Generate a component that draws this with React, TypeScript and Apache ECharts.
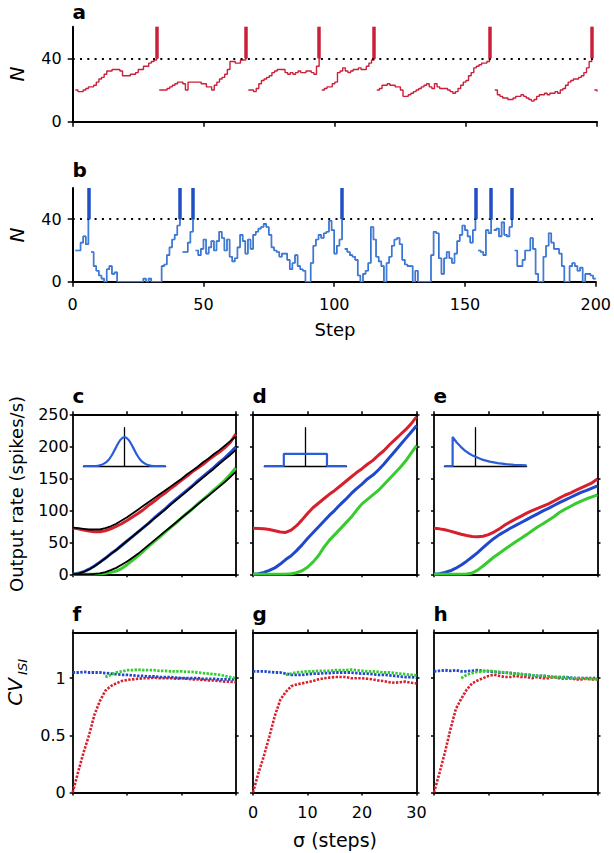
import React, { useEffect, useRef } from 'react';
import * as echarts from 'echarts';

// ---------------- data ----------------
const stepTicks = [0, 50, 100, 150, 200];
const nTicks = [0, 40];
const threshold = 40;
const spikeTop = 60;

// panel a: N per step (index = step), null = no trace
const traceA = [null,
  20, 19, 19, 20, 21, 22, 22, 23, 25, 27, 28, 30, 32, 32, 33, 33, 33, 32, 29, 29,
  29, 30, 30, 31, 33, 33, 35, 35, 37, 38, 39, 40,
  20, 20, 20, 21, 22, 23, 24, 25, 25, 24, 20, 25, 25, 25, 25, 25, 24, 24, 22, 22,
  20, 23, 25, 27, 28, 30, 33, 38, 38, 37, 37, 39, 39, 40,
  20, 20, 19, 21, 24, 26, 27, 28, 29, 31, 32, 33, 33, 33, 31, 30, 31, 30, 31, 32,
  31, 31, 32, 32, 31, 30, 35, 40,
  20, 21, 22, 22, 24, 25, 31, 32, 34, 32, 31, 32, 33, 33, 34, 33, 33, 35, 37, 39, 40,
  20, 21, 23, 23, 24, 23, 23, 22, 22, 20, 16, 16, 17, 18, 19, 20, 21, 22, 23, 24,
  22, 21, 24, 22, 21, 21, 21, 20, 19, 18, 19, 21, 23, 25, 26, 29, 31, 34, 35, 36,
  37, 37, 38, 40,
  null,
  20, 17, 16, 15, 15, 14, 14, 15, 16, 16, 17, 16, 15, 14, 13, 14, 16, 17, 17, 18,
  17, 18, 18, 19, 18, 20, 21, 23, 25, 26, 27, 27, 28, 29, 31, 34, 38, 40,
  20, 19];
const spikesA = [32, 66, 94, 115, 159, 198];

// panel b
const traceB = [null,
  20, 20, 25, 29, 24, 40,
  19, 10, 7, 4, 2, 0, 8, 10, 5, 6, 0, 0, 0, 0, 0, 0, 0, 0, 0, 0,
  2, 0, 2, 0, 0, 0, 0, 10, 11, 17, 22, 27, 30, 36, 40,
  19, 19, 25, 32, 40,
  20, 17, 21, 27, 18, 22, 26, 20, 26, 32, 28, 20, 27, 16, 13, 15, 22, 30, 26, 18,
  27, 21, 30, 32, 34, 35, 37, 35, 30, 22, 20, 19, 16, 18, 18, 14, 8, 12, 17, 10,
  8, 7, 0, 0, 12, 23, 27, 30, 28, 31, 32, 39, 33, 18, 23, 27, 40,
  21, 19, 17, 16, 14, 4, 0, 5, 7, 12, 35, 27, 16, 13, 10, 0, 12, 16, 23, 27,
  28, 24, 14, 11, 10, 10, 0, 7, 0, 0, 0, 0, 0, 17, 32, 31, 15, 5, 15, 19,
  15, 12, 18, 26, 30, 36, 33, 29, 25, 33, 40,
  20, 19, 17, 33, 31, 40,
  33, 34, 29, 38, 30, 29, 35, 40,
  20, 10, 10, 14, 20, 20, 28, 21, 5, 0, 0, 16, 23, 31, 25, 21, 21, 18, 10, 0,
  0, 10, 12, 10, 7, 9, 0, 5, 5, 4, 2, 2];
const spikesB = [6, 41, 46, 103, 154, 160, 168];

// panels c-h : sigma in steps
const sigma = [0, 1, 2, 3, 4, 5, 6, 7, 8, 9, 10, 11, 12, 13, 14, 15, 16, 17, 18, 19, 20, 21, 22, 23, 24, 25, 26, 27, 28, 29, 30];
const sigmaTicks = [0, 10, 20, 30];
const rateTicks = [0, 50, 100, 150, 200, 250];
const cvTicks = [0, 0.5, 1];

const rateCRed = [72.5, 71, 69, 67.5, 66.5, 66.5, 68, 71, 75, 79, 84, 89.5, 95, 101, 108, 114, 121, 127, 134, 140, 147, 153, 160, 166, 172, 179, 185, 191, 198, 206, 219];
const rateCBlue = [0, 1.5, 4, 8, 13, 19, 25, 32, 38, 45, 52, 59, 66, 73, 80, 88, 95, 102, 110, 117, 124, 131, 138, 146, 153, 160, 167, 175, 182, 190, 199];
const rateCGreen = [0, 0, 0, 0, 0, 0.5, 1.5, 3, 5, 9, 15, 22, 29, 36, 44, 51, 58, 66, 73, 80, 88, 95, 102, 110, 117, 124, 132, 139, 147, 156, 166];
const theoryCRed = [73, 72, 71, 70, 70, 70, 72, 75, 79, 84, 89, 95, 101, 107, 113, 119, 125, 131, 137, 143, 149, 156, 162, 168, 175, 181, 188, 194, 201, 208, 215];
const theoryCBlue = [0, 1, 3.5, 7.5, 12.5, 18.5, 25, 31.5, 38, 45, 52, 59, 66, 73, 80, 87, 94, 101, 108.5, 115.5, 122.5, 129.5, 137, 144, 151, 158, 165, 172.5, 179.5, 186.5, 194];
const theoryCGreen = [0, 0, 0, 0, 0.5, 1.5, 3.5, 6.5, 10, 15, 20, 26, 32, 39, 46, 53, 60, 67, 74, 81, 88, 95, 102, 109, 116, 123, 130, 137, 144, 152, 160];

const rateDRed = [72, 71.5, 71, 70, 68, 66, 65.5, 69, 76, 85, 95, 104, 111, 118, 125, 131, 138, 145, 152, 159, 165, 172, 178, 186, 193, 202, 210, 218, 226, 235, 246];
const rateDBlue = [0, 1, 3, 6, 10, 16, 23, 29, 37, 46, 56, 65, 74, 83, 92, 100, 109, 117, 126, 134, 141, 149, 155, 163, 172, 182, 192, 202, 212, 222, 232];
const rateDGreen = [0, 0, 0, 0, 0, 0, 0, 1, 2.5, 5.5, 11, 19, 29, 42, 53, 62, 71, 80, 89, 100, 110, 117, 124, 131, 140, 149, 158, 167, 177, 189, 201];

const rateERed = [72, 71, 69.5, 67.5, 65, 62.5, 60.5, 59, 58.5, 59.5, 62, 66, 71, 77, 82, 86.5, 91, 95.5, 99.5, 103, 106.5, 110, 114.5, 119, 123.5, 127, 131, 135, 139, 143, 149];
const rateEBlue = [0, 1, 3, 5.5, 9.5, 14.5, 20.5, 27, 34, 41.5, 49, 56, 62, 67, 72, 76.5, 81, 85.5, 90, 94.5, 99, 103, 107.5, 112, 116, 120, 124, 128, 131, 134.5, 138];
const rateEGreen = [0, 0, 0, 0, 0, 0, 0.5, 2, 6.5, 13, 20, 27, 33, 39, 45, 51, 56.5, 62, 68, 74, 79, 84.5, 90, 96.5, 101.5, 106, 110.5, 114.5, 118, 121, 124];

const cvFRed = [0, 0.18, 0.35, 0.5, 0.68, 0.8, 0.89, 0.93, 0.955, 0.975, 0.985, 0.99, 0.995, 1, 1, 1.005, 1, 1, 1, 0.995, 1, 0.995, 0.99, 0.99, 0.985, 0.98, 0.98, 0.975, 0.97, 0.97, 0.965];
const cvFBlue = [1.05, 1.05, 1.055, 1.05, 1.05, 1.05, 1.045, 1.04, 1.035, 1.03, 1.03, 1.025, 1.02, 1.02, 1.015, 1.015, 1.01, 1.01, 1.01, 1.005, 1, 1, 1, 1, 0.995, 0.995, 0.995, 0.99, 0.99, 0.99, 0.99];
const cvFGreen = [null, null, null, null, null, null, 1.01, 1.03, 1.05, 1.06, 1.07, 1.07, 1.075, 1.07, 1.07, 1.07, 1.065, 1.065, 1.06, 1.06, 1.06, 1.055, 1.055, 1.05, 1.045, 1.04, 1.035, 1.03, 1.02, 1.01, 1.0];

const cvGRed = [0, 0.17, 0.32, 0.49, 0.67, 0.81, 0.88, 0.93, 0.945, 0.955, 0.965, 0.975, 0.99, 1, 1.005, 1.01, 1.01, 1.01, 1, 1, 1, 0.995, 0.99, 0.98, 0.975, 0.965, 0.96, 0.965, 0.97, 0.96, 0.955];
const cvGBlue = [1.06, 1.06, 1.06, 1.055, 1.05, 1.05, 1.04, 1.03, 1.03, 1.03, 1.035, 1.04, 1.04, 1.045, 1.045, 1.05, 1.05, 1.05, 1.05, 1.045, 1.04, 1.04, 1.035, 1.03, 1.03, 1.025, 1.02, 1.015, 1.01, 1.01, 1.005];
const cvGGreen = [null, null, null, null, null, null, 1.03, 1.04, 1.05, 1.055, 1.06, 1.06, 1.065, 1.065, 1.065, 1.07, 1.07, 1.07, 1.075, 1.07, 1.065, 1.06, 1.06, 1.055, 1.05, 1.05, 1.045, 1.04, 1.035, 1.03, 1.025];

const cvHRed = [0, 0.17, 0.35, 0.55, 0.73, 0.82, 0.9, 0.955, 0.98, 1, 1.02, 1.03, 1.02, 1.01, 1.01, 1.02, 1.01, 1.01, 1, 1.01, 1, 1, 1.01, 1, 0.995, 1, 0.99, 0.99, 0.995, 0.99, 0.99];
const cvHBlue = [1.06, 1.065, 1.07, 1.065, 1.07, 1.06, 1.06, 1.065, 1.07, 1.065, 1.06, 1.055, 1.05, 1.05, 1.045, 1.04, 1.035, 1.03, 1.025, 1.02, 1.02, 1.015, 1.01, 1.01, 1.01, 1.005, 1, 1, 1, 1, 1];
const cvHGreen = [null, null, null, null, null, 1.0, 1.03, 1.045, 1.055, 1.06, 1.065, 1.06, 1.055, 1.05, 1.045, 1.04, 1.035, 1.03, 1.025, 1.02, 1.02, 1.015, 1.01, 1.01, 1.005, 1.0, 1.0, 1.0, 0.995, 0.995, 0.99];

// inset kernels (kernel time, relative amplitude)
const gaussT = [-20, -14, -12, -10, -8, -6, -4, -2, 0, 2, 4, 6, 8, 10, 12, 14, 20];
const gaussK = [0, 0, 0.02, 0.08, 0.19, 0.39, 0.66, 0.9, 1, 0.9, 0.66, 0.39, 0.19, 0.08, 0.02, 0, 0];
const boxT = [-20, -10.5, -10.5, 10.5, 10.5, 20];
const boxK = [0, 0, 0.42, 0.42, 0, 0];
const expT = [-15, -11, -11, -9, -7, -5, -3, -1, 3, 7, 11, 15, 19, 25];
const expK = [0, 0, 1, 0.81, 0.66, 0.53, 0.43, 0.35, 0.23, 0.15, 0.1, 0.065, 0.04, 0.02];

// ---------------- styles ----------------
const FONT = 'DejaVu Sans';
const RED = '#d6202e';
const BLUE = '#1f48cc';
const GREEN = '#36cc2e';
const TRACE_RED = '#cc1f3a';
const TRACE_BLUE = '#1f52c0';
const TRACE_LIGHT = '#62b4f4';
const KERNEL = '#2a5ed8';

const COLS = [
  { left: 72.7, width: 163 },
  { left: 253, width: 163.5 },
  { left: 434, width: 163.5 },
];
const RATE_TOP = 414.3;
const CV_TOP = 632.5;
const PANEL_H = 160;

function buildTrace(vals: (number | null)[], spikes: number[]) {
  const out: any[] = [];
  vals.forEach((v, i) => {
    out.push([i, v == null ? '-' : v]);
    if (spikes.includes(i)) out.push([i + 0.5, '-']);
  });
  return out;
}
function pairs(xs: number[], ys: (number | null)[]) {
  return xs.map((x, i) => [x, ys[i] == null ? '-' : ys[i]]);
}

function buildOption() {
  const grids: any[] = [];
  const xAxes: any[] = [];
  const yAxes: any[] = [];
  const series: any[] = [];

  const line = (w = 1.8) => ({ show: true, onZero: false, lineStyle: { color: '#000', width: w } });
  const tick = (len: number, custom?: number[]) => ({
    show: true, inside: false, length: len, lineStyle: { color: '#000', width: 1.5 },
    ...(custom ? { customValues: custom } : {}),
  });
  const lbl = (show: boolean, margin: number, custom?: number[]) => ({
    show, margin, color: '#000', fontFamily: FONT, fontSize: 16,
    ...(custom ? { customValues: custom } : {}),
  });
  const addGrid = (g: any) => { grids.push({ ...g, containLabel: false }); return grids.length - 1; };
  const addX = (o: any) => { xAxes.push({ type: 'value', splitLine: { show: false }, ...o }); return xAxes.length - 1; };
  const addY = (o: any) => { yAxes.push({ type: 'value', splitLine: { show: false }, ...o }); return yAxes.length - 1; };

  // ----- panels a & b -----
  const traceGrid = (top: number, height: number, showX: boolean, vals: any[], spikes: number[], isBlue: boolean) => {
    const gi = addGrid({ left: 72.7, top, width: 524.3, height });
    const xi = addX({ gridIndex: gi, min: 0, max: 200, interval: 50, axisLine: line(2), axisTick: tick(5, stepTicks), axisLabel: lbl(showX, 15, stepTicks) });
    const yi = addY({ gridIndex: gi, min: 0, max: spikeTop, axisLine: line(2), axisTick: tick(5, nTicks), axisLabel: lbl(true, 11, nTicks) });
    const spikeColor = isBlue ? '#1f4fc4' : TRACE_RED;
    const markLine = {
      silent: true, symbol: ['none', 'none'], label: { show: false },
      lineStyle: { color: spikeColor, width: 3.5, type: 'solid' },
      emphasis: { disabled: true },
      data: [
        { yAxis: threshold, lineStyle: { color: '#000', width: 2, type: [2, 5.3] } },
        ...spikes.map((t) => [{ coord: [t, threshold] }, { coord: [t, spikeTop] }]),
      ],
    };
    series.push({
      type: 'line', xAxisIndex: xi, yAxisIndex: yi, data: buildTrace(vals, spikes), step: 'end',
      showSymbol: false, connectNulls: false, silent: true,
      lineStyle: { color: isBlue ? TRACE_BLUE : TRACE_RED, width: isBlue ? 1.6 : 1.4 },
      markLine,
    });
    if (isBlue) {
      series.push({
        type: 'line', xAxisIndex: xi, yAxisIndex: yi, data: buildTrace(vals, spikes), step: 'end',
        showSymbol: false, connectNulls: false, silent: true,
        lineStyle: { color: TRACE_LIGHT, width: 0.5 },
      });
    }
  };
  traceGrid(26.7, 95, false, traceA, spikesA, false);
  traceGrid(188, 93.7, true, traceB, spikesB, true);

  // ----- framed panels -----
  const framed = (col: number, top: number, yMax: number, yTicks: number[], showXLabels: boolean, showYLabels: boolean, yMargin: number) => {
    const gi = addGrid({ left: COLS[col].left, top, width: COLS[col].width, height: PANEL_H });
    const xi = addX({ gridIndex: gi, min: 0, max: 30, interval: 10, axisLine: line(), axisTick: tick(3, sigmaTicks), axisLabel: lbl(showXLabels, 12, sigmaTicks) });
    addX({ gridIndex: gi, position: 'top', min: 0, max: 30, interval: 10, axisLine: line(), axisTick: tick(3, sigmaTicks), axisLabel: { show: false } });
    const yi = addY({ gridIndex: gi, min: 0, max: yMax, axisLine: line(), axisTick: tick(3, yTicks), axisLabel: lbl(showYLabels, yMargin, yTicks) });
    addY({ gridIndex: gi, position: 'right', min: 0, max: yMax, axisLine: line(), axisTick: tick(3, yTicks), axisLabel: { show: false } });
    return { xi, yi };
  };
  const addCurve = (ax: { xi: number; yi: number }, ys: (number | null)[], color: string, width: number, dotted = false) => {
    series.push({
      type: 'line', xAxisIndex: ax.xi, yAxisIndex: ax.yi, data: pairs(sigma, ys), showSymbol: false, silent: true,
      connectNulls: false,
      lineStyle: { color, width, type: dotted ? [2.4, 1.4] : 'solid' },
    });
  };

  const rateSets = [
    [rateCRed, rateCBlue, rateCGreen],
    [rateDRed, rateDBlue, rateDGreen],
    [rateERed, rateEBlue, rateEGreen],
  ];
  rateSets.forEach((set, col) => {
    const ax = framed(col, RATE_TOP, 250, rateTicks, false, col === 0, 4);
    addCurve(ax, set[0], RED, 3);
    addCurve(ax, set[1], BLUE, 3);
    addCurve(ax, set[2], GREEN, 3);
    if (col === 0) {
      addCurve(ax, theoryCRed, '#000', 1.8);
      addCurve(ax, theoryCBlue, '#000', 1.8);
      addCurve(ax, theoryCGreen, '#000', 1.8);
    }
  });

  const cvSets = [
    [cvFRed, cvFBlue, cvFGreen],
    [cvGRed, cvGBlue, cvGGreen],
    [cvHRed, cvHBlue, cvHGreen],
  ];
  cvSets.forEach((set, col) => {
    const ax = framed(col, CV_TOP, 1.4, cvTicks, col === 1, col === 0, 7);
    addCurve(ax, set[0], RED, 2.6, true);
    addCurve(ax, set[1], BLUE, 2.8, true);
    addCurve(ax, set[2], GREEN, 2.8, true);
  });

  // ----- insets -----
  const insets = [
    { left: 83.4, t: gaussT, k: gaussK, min: -20, max: 20, smooth: 0.4 },
    { left: 264.3, t: boxT, k: boxK, min: -20, max: 20, smooth: false },
    { left: 444.4, t: expT, k: expK, min: -15, max: 25, smooth: false },
  ];
  insets.forEach((ins) => {
    const gi = addGrid({ left: ins.left, top: 427.7, width: 82.2, height: 38.3 });
    const xi = addX({ gridIndex: gi, min: ins.min, max: ins.max, axisLine: { show: true, onZero: false, lineStyle: { color: '#000', width: 1.3 } }, axisTick: { show: false }, axisLabel: { show: false } });
    const yi = addY({ gridIndex: gi, min: 0, max: 1.32, axisLine: { show: true, onZero: true, lineStyle: { color: '#000', width: 1.3 } }, axisTick: { show: false }, axisLabel: { show: false } });
    series.push({
      type: 'line', xAxisIndex: xi, yAxisIndex: yi, data: pairs(ins.t, ins.k), showSymbol: false, silent: true,
      smooth: ins.smooth, lineStyle: { color: KERNEL, width: 2.2 }, z: 5,
    });
  });

  // ----- texts -----
  const letter = (t: string, x: number, y: number) => ({
    type: 'text', x, y, silent: true,
    style: { text: t, fontFamily: FONT, fontWeight: 'bold', fontSize: 20, fill: '#000', align: 'left', verticalAlign: 'middle' },
  });
  const txt = (t: string, x: number, y: number, size: number, rot = 0, italic = false) => ({
    type: 'text', x, y, rotation: rot, silent: true,
    style: { text: t, fontFamily: FONT, fontSize: size, fontStyle: italic ? 'italic' : 'normal', fill: '#000', align: 'center', verticalAlign: 'middle' },
  });
  const R = Math.PI / 2;
  const graphic = [
    letter('a', 72.5, 12),
    letter('b', 72.5, 170),
    letter('c', 72.5, 396),
    letter('d', 252.5, 396),
    letter('e', 433.5, 396),
    letter('f', 72.5, 614),
    letter('g', 252.5, 614),
    letter('h', 433.5, 614),
    txt('N', 17, 74, 20, R, true),
    txt('N', 17, 235, 20, R, true),
    txt('Step', 335, 329, 18),
    txt('Output rate (spikes/s)', 16, 494, 18, R),
    txt('CV', 15, 692, 20, R, true),
    txt('ISI', 22, 667, 13, R, true),
    txt('σ (steps)', 335, 840, 19),
  ];

  return {
    animation: false,
    backgroundColor: '#fff',
    grid: grids,
    xAxis: xAxes,
    yAxis: yAxes,
    series,
    graphic,
  };
}

export default function App() {
  const ref = useRef<HTMLDivElement>(null);
  useEffect(() => {
    if (!ref.current) return;
    const chart = echarts.init(ref.current, undefined, { renderer: 'svg' });
    chart.setOption(buildOption() as any);
    return () => chart.dispose();
  }, []);
  return <div ref={ref} style={{ position: 'absolute', left: 0, top: 0, width: 614, height: 853 }} />;
}
